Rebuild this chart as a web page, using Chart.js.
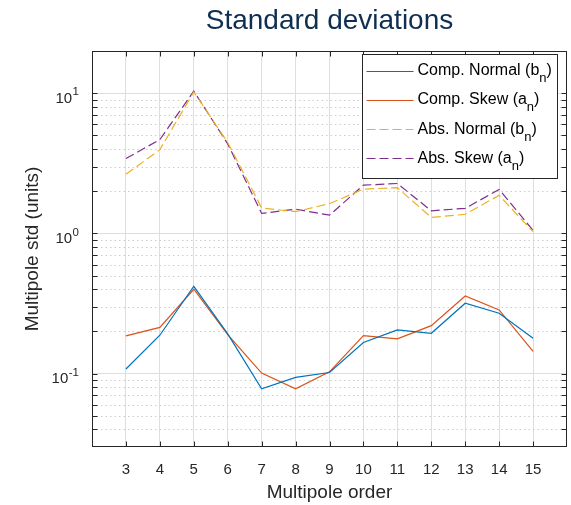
<!DOCTYPE html>
<html><head><meta charset="utf-8">
<script src="https://cdn.jsdelivr.net/npm/chart.js@4.4.0/dist/chart.umd.min.js"></script>
<style>html,body{margin:0;padding:0;background:#fff;}canvas{display:block;}</style>
</head><body>
<canvas id="c" width="571" height="505"></canvas>
<script>
// ---- data ----
const multipoleOrders = [3,4,5,6,7,8,9,10,11,12,13,14,15];
const compNormal = [0.108,0.188,0.42,0.192,0.078,0.094,0.102,0.167,0.205,0.194,0.318,0.27,0.179];
const compSkew   = [0.186,0.214,0.40,0.190,0.101,0.078,0.103,0.187,0.177,0.22,0.358,0.285,0.144];
const absNormal  = [2.64,3.96,10.2,4.45,1.52,1.43,1.63,2.07,2.12,1.30,1.37,1.87,1.03];
const absSkew    = [3.42,4.67,10.35,4.35,1.39,1.49,1.35,2.21,2.27,1.45,1.51,2.06,1.05];
const seriesLabels = ['Comp. Normal (bₙ)','Comp. Skew (aₙ)','Abs. Normal (bₙ)','Abs. Skew (aₙ)'];
const xTickLabels = ['3','4','5','6','7','8','9','10','11','12','13','14','15'];
const yMajorTicks = [0.1, 1, 10];
const yTickLabels = ['10⁻¹','10⁰','10¹'];
const yMinorTicks = [0.03,0.04,0.05,0.06,0.07,0.08,0.09,0.2,0.3,0.4,0.5,0.6,0.7,0.8,0.9,2,3,4,5,6,7,8,9,20];
const chartTitle = 'Standard deviations';
const xAxisTitle = 'Multipole order';
const yAxisTitle = 'Multipole std (units)';

const F = '"Liberation Sans", Arial, Helvetica, sans-serif';
const AX = '#262626';
const colors = ['#0072BD','#D95319','#EDB120','#7E2F8E'];
const seriesData = [compNormal, compSkew, absNormal, absSkew];
const DASH = [9,4];
const SUP = {'⁰':'0','¹':'1','²':'2','³':'3','⁻':'-'};

function isMajor(v){ return yMajorTicks.some(m => Math.abs(m - v) / m < 1e-6); }

const datasets = seriesData.map((arr, i) => ({
  label: seriesLabels[i],
  data: multipoleOrders.map((x, k) => ({x: x, y: arr[k]})),
  borderColor: colors[i],
  backgroundColor: colors[i],
  borderWidth: 1.2,
  borderDash: i >= 2 ? DASH : [],
  pointRadius: 0,
  tension: 0,
  fill: false
}));

const minorGridPlugin = {
  id: 'minorGrid',
  beforeDatasetsDraw(chart) {
    const ctx = chart.ctx, ca = chart.chartArea, ys = chart.scales.y;
    ctx.save();
    ctx.strokeStyle = '#cdcdcd';
    ctx.lineWidth = 1;
    ctx.setLineDash([1.5, 3]);
    yMinorTicks.forEach(v => {
      const y = Math.round(ys.getPixelForValue(v)) + 0.5;
      if (y <= ca.top + 1 || y >= ca.bottom - 1) return;
      ctx.beginPath(); ctx.moveTo(ca.left, y); ctx.lineTo(ca.right, y); ctx.stroke();
    });
    ctx.restore();
  }
};

const framePlugin = {
  id: 'frameLegend',
  afterDatasetsDraw(chart) {
    const ctx = chart.ctx, ca = chart.chartArea, xs = chart.scales.x, ys = chart.scales.y;
    const L = Math.round(ca.left) + 0.5, R = Math.round(ca.right) - 0.5;
    const T = Math.round(ca.top) + 0.5, B = Math.round(ca.bottom) - 0.5;
    ctx.save();
    ctx.strokeStyle = AX; ctx.lineWidth = 1; ctx.setLineDash([]);
    ctx.strokeRect(L, T, R - L, B - T);
    const tl = 5;
    ctx.beginPath();
    multipoleOrders.forEach(v => {
      const x = Math.round(xs.getPixelForValue(v)) + 0.5;
      ctx.moveTo(x, B); ctx.lineTo(x, B - tl);
      ctx.moveTo(x, T); ctx.lineTo(x, T + tl);
    });
    yMajorTicks.concat(yMinorTicks).forEach(v => {
      const y = Math.round(ys.getPixelForValue(v)) + 0.5;
      if (y < T || y > B) return;
      ctx.moveTo(L, y); ctx.lineTo(L + tl, y);
      ctx.moveTo(R, y); ctx.lineTo(R - tl, y);
    });
    ctx.stroke();

    // y tick labels with superscript exponents
    ctx.fillStyle = AX;
    ctx.textBaseline = 'middle';
    yMajorTicks.forEach((v, i) => {
      const y = ys.getPixelForValue(v);
      const lab = yTickLabels[i];
      const base = lab.slice(0, 2);
      const exp = lab.slice(2).split('').map(c => SUP[c] || c).join('');
      const right = ca.left - 13;
      ctx.font = '11.5px ' + F;
      const ew = ctx.measureText(exp).width;
      ctx.textAlign = 'right';
      ctx.fillText(exp, right, y - 1);
      ctx.font = '15px ' + F;
      ctx.fillText(base, right - ew - 0.5, y + 5.5);
    });

    // legend
    const x0 = Math.round(ca.right) - 205 + 0.5, y0 = Math.round(ca.top) + 3 + 0.5;
    const w = 195, h = 124;
    ctx.fillStyle = '#ffffff';
    ctx.fillRect(x0, y0, w, h);
    ctx.strokeStyle = AX; ctx.lineWidth = 1;
    ctx.strokeRect(x0, y0, w, h);
    chart.data.datasets.forEach((ds, i) => {
      const cy = y0 + 16 + i * 29.3;
      ctx.strokeStyle = ds.borderColor; ctx.lineWidth = 1.2;
      ctx.setLineDash(ds.borderDash || []);
      ctx.beginPath(); ctx.moveTo(x0 + 4, Math.round(cy) + 0.5); ctx.lineTo(x0 + 51, Math.round(cy) + 0.5); ctx.stroke();
      ctx.setLineDash([]);
      ctx.fillStyle = '#000000';
      ctx.textBaseline = 'middle'; ctx.textAlign = 'left';
      const parts = ds.label.split('ₙ');
      let tx = x0 + 55;
      ctx.font = '16px ' + F;
      ctx.fillText(parts[0], tx, cy);
      tx += ctx.measureText(parts[0]).width;
      if (parts.length > 1) {
        ctx.font = '13px ' + F;
        ctx.fillText('n', tx, cy + 8);
        tx += ctx.measureText('n').width;
        ctx.font = '16px ' + F;
        ctx.fillText(parts[1], tx, cy);
      }
    });
    ctx.restore();
  }
};

new Chart(document.getElementById('c'), {
  type: 'line',
  data: { datasets: datasets },
  options: {
    responsive: false,
    devicePixelRatio: 1,
    animation: false,
    layout: { padding: { left: 0, right: 4, top: 0, bottom: 0 } },
    plugins: {
      legend: { display: false },
      tooltip: { enabled: false },
      title: {
        display: true, text: chartTitle, fullSize: false,
        color: '#0f2f52', font: { family: F, size: 28, weight: 'normal' },
        padding: { top: 4, bottom: 13.4 }
      }
    },
    scales: {
      x: {
        type: 'linear', min: 2, max: 16,
        afterBuildTicks: s => { s.ticks = multipoleOrders.map(v => ({ value: v })); },
        afterFit: s => { s.height = 58; },
        ticks: {
          autoSkip: false, maxRotation: 0, color: AX, padding: 14,
          font: { family: F, size: 15 },
          callback: (v) => { const i = multipoleOrders.indexOf(v); return i >= 0 ? xTickLabels[i] : ''; }
        },
        grid: { color: '#dedede', lineWidth: 1, drawTicks: false },
        border: { display: false },
        title: { display: true, text: xAxisTitle, color: AX, font: { family: F, size: 19 }, padding: { top: 0, bottom: 1 } }
      },
      y: {
        type: 'logarithmic', min: 0.03, max: 20,
        afterBuildTicks: s => {
          s.ticks = yMajorTicks.concat(yMinorTicks).sort((a, b) => a - b).map(v => ({ value: v }));
        },
        afterFit: s => { s.width = 92; },
        ticks: {
          display: false, autoSkip: false,
          callback: (v) => { const i = yMajorTicks.findIndex(m => Math.abs(m - v) / m < 1e-6); return i >= 0 ? yTickLabels[i] : ''; }
        },
        grid: { color: c => (c.tick && isMajor(c.tick.value)) ? '#dedede' : 'rgba(0,0,0,0)', lineWidth: 1, drawTicks: false },
        border: { display: false },
        title: { display: true, text: yAxisTitle, color: AX, font: { family: F, size: 19 }, padding: { top: 21, bottom: 0 } }
      }
    }
  },
  plugins: [minorGridPlugin, framePlugin]
});
</script>
</body></html>
